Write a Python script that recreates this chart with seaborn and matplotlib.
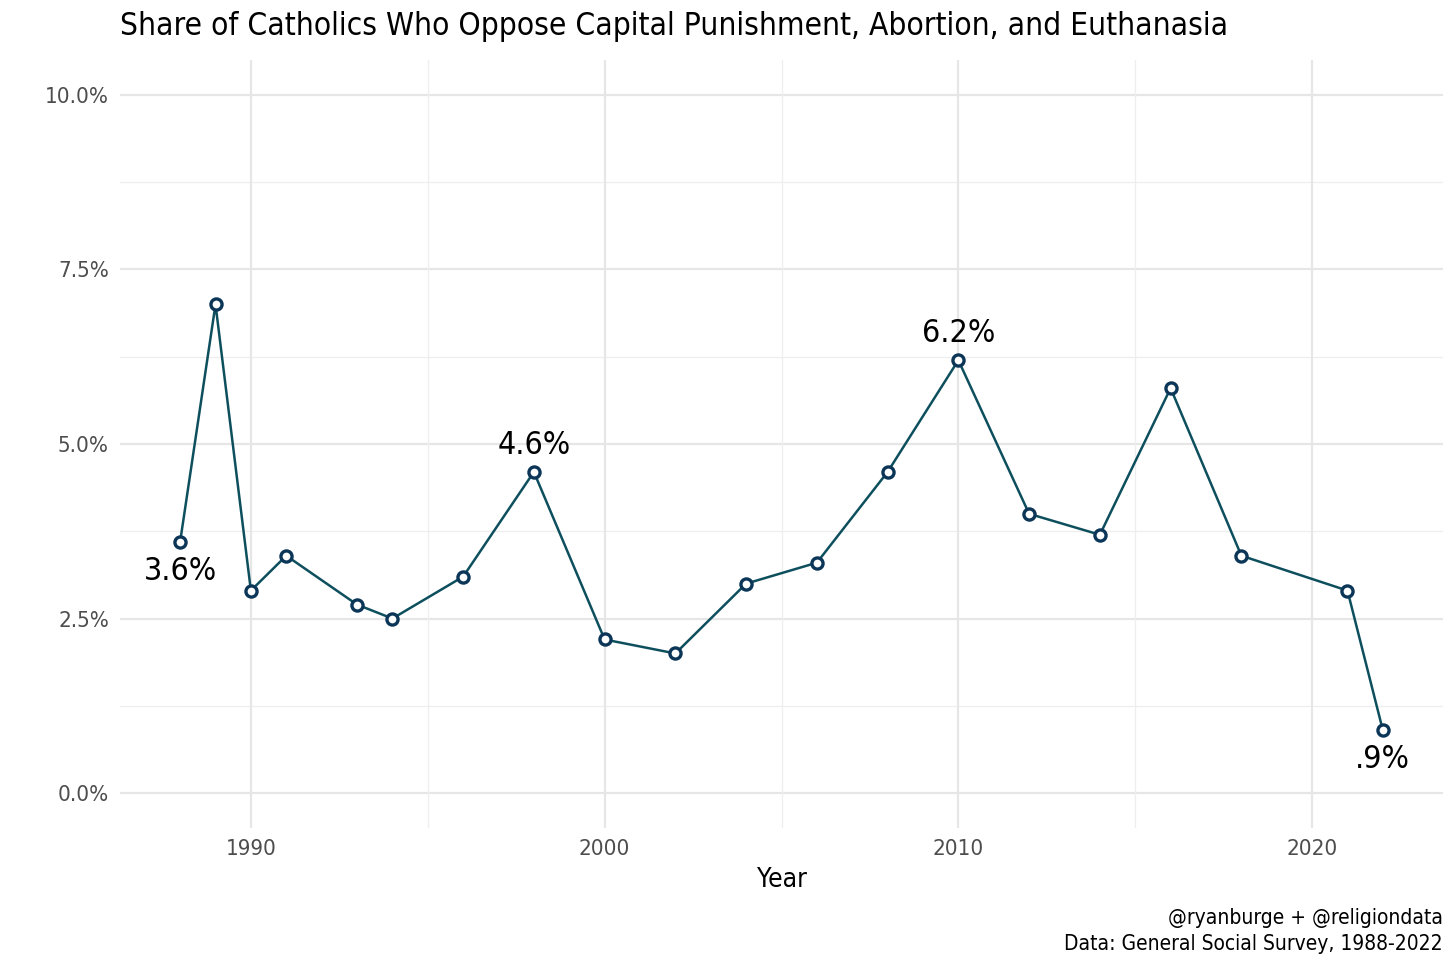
import matplotlib
matplotlib.use('Agg')
import matplotlib.pyplot as plt
import seaborn as sns
import pandas as pd
from matplotlib.ticker import FuncFormatter

years = [1988, 1989, 1990, 1991, 1993, 1994, 1996, 1998, 2000, 2002,
         2004, 2006, 2008, 2010, 2012, 2014, 2016, 2018, 2021, 2022]
share = [3.6, 7.0, 2.9, 3.4, 2.7, 2.5, 3.1, 4.6, 2.2, 2.0,
         3.0, 3.3, 4.6, 6.2, 4.0, 3.7, 5.8, 3.4, 2.9, 0.9]
label_years = [1988, 1998, 2010, 2022]
label_text = ['3.6%', '4.6%', '6.2%', '.9%']
label_below = [True, False, False, True]

df = pd.DataFrame({'year': years, 'share': share})

sns.set_style('white')
plt.rcParams['font.family'] = ['DejaVu Sans']
plt.rcParams['font.stretch'] = 'condensed'
plt.rcParams['text.color'] = 'black'
plt.rcParams['axes.labelcolor'] = 'black'

fig = plt.figure(figsize=(14.56, 9.71), dpi=100)
ax = fig.add_axes([120 / 1456, 1 - 828 / 971, (1443 - 120) / 1456, (828 - 60) / 971])

# grid
for y in [0, 2.5, 5, 7.5, 10]:
    ax.axhline(y, color='#e6e6e6', lw=1.6, zorder=0)
for y in [1.25, 3.75, 6.25, 8.75]:
    ax.axhline(y, color='#eeeeee', lw=0.9, zorder=0)
for x in [1990, 2000, 2010, 2020]:
    ax.axvline(x, color='#e6e6e6', lw=1.6, zorder=0)
for x in [1995, 2005, 2015]:
    ax.axvline(x, color='#eeeeee', lw=0.9, zorder=0)

sns.lineplot(data=df, x='year', y='share', ax=ax, color='#0e4f5e', lw=1.8,
             marker='o', markersize=8, markerfacecolor='white',
             markeredgecolor='#0b3658', markeredgewidth=2.4, zorder=3)

for yr, txt, below in zip(label_years, label_text, label_below):
    v = df.loc[df.year == yr, 'share'].values[0]
    ax.annotate(txt, (yr, v), xytext=(0, -10 if below else 8), textcoords='offset points',
                ha='center', va='top' if below else 'bottom', fontsize=23, color='black')

ax.set_xlim(1986.3, 2023.7)
ax.set_ylim(-0.5, 10.5)
ax.set_xticks([1990, 2000, 2010, 2020])
ax.set_yticks([0, 2.5, 5, 7.5, 10])
ax.yaxis.set_major_formatter(FuncFormatter(lambda v, p: '%.1f%%' % v))
ax.tick_params(length=0, labelsize=16, labelcolor='#4d4d4d', pad=8)
for s in ax.spines.values():
    s.set_visible(False)
ax.set_xlabel('Year', fontsize=19, labelpad=6)
ax.set_ylabel('')

fig.text(120 / 1456, 1 - 27 / 971, 'Share of Catholics Who Oppose Capital Punishment, Abortion, and Euthanasia',
         fontsize=22.7, va='center', ha='left')
fig.text(1443 / 1456, 1 - 918 / 971, '@ryanburge + @religiondata', fontsize=15, ha='right', va='center')
fig.text(1443 / 1456, 1 - 944 / 971, 'Data: General Social Survey, 1988-2022', fontsize=15, ha='right', va='center')

fig.savefig('out.png', dpi=100, facecolor='white')
